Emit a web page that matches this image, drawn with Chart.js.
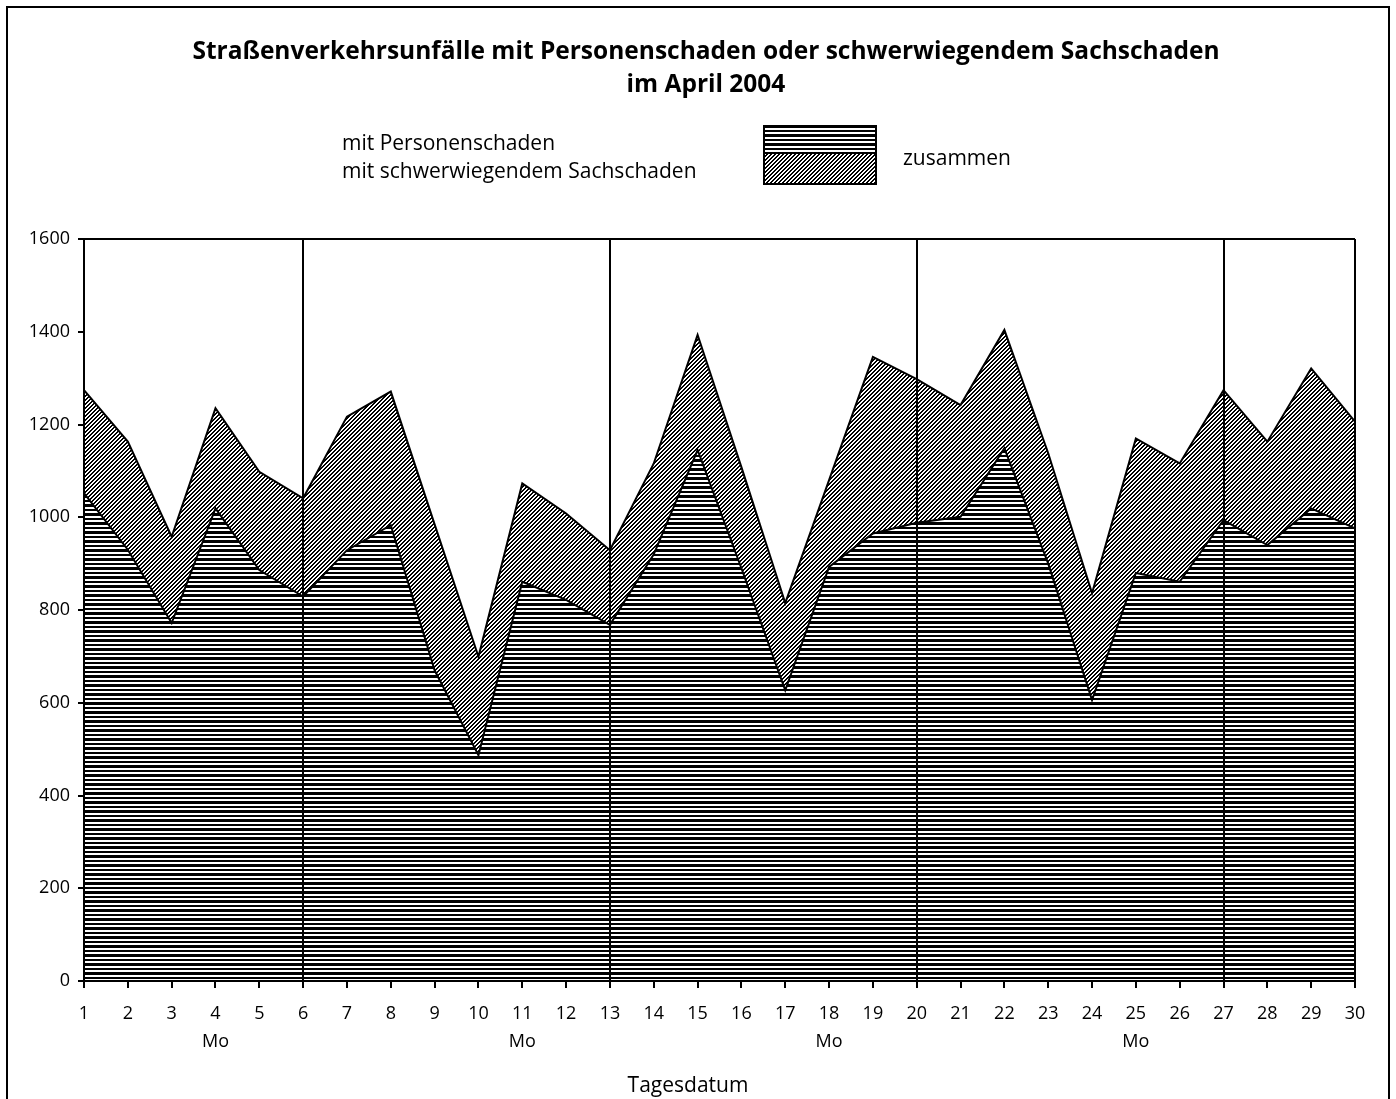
<!DOCTYPE html>
<html lang="de">
<head>
<meta charset="UTF-8">
<title>Straßenverkehrsunfälle April 2004</title>
<script src="https://cdn.jsdelivr.net/npm/chart.js@4.4.0/dist/chart.umd.min.js"></script>
<style>
body{margin:0;background:#fff;color:#000;font-family:"Open Sans",Arial,sans-serif}
#wrap{position:relative;width:1396px;height:1099px;overflow:hidden}
#frame{position:absolute;left:6px;top:6px;width:1380px;height:1200px;border:2px solid #000}
#chart{position:absolute;left:0;top:0}
.title{position:absolute;left:0;top:33px;width:1412px;text-align:center;font-weight:bold;font-size:24.5px;line-height:33px}
.legtxt{position:absolute;left:342px;top:128px;font-size:21px;line-height:28px;white-space:nowrap}
#swatch{position:absolute;left:763px;top:125px}
.zus{position:absolute;left:903px;top:143px;font-size:21px;line-height:28px}
.xtitle{position:absolute;left:588px;width:200px;top:1070px;text-align:center;font-size:21px;line-height:28px}
</style>
</head>
<body>
<div id="wrap">
  <canvas id="chart" width="1396" height="1099"></canvas>
  <div id="frame"></div>
  <div class="title">Straßenverkehrsunfälle mit Personenschaden oder schwerwiegendem Sachschaden<br>im April 2004</div>
  <div class="legtxt">mit Personenschaden<br>mit schwerwiegendem Sachschaden</div>
  <canvas id="swatch" width="114" height="60"></canvas>
  <div class="zus">zusammen</div>
  <div class="xtitle">Tagesdatum</div>
</div>

<script>
// Tage im April 2004
const days = [1,2,3,4,5,6,7,8,9,10,11,12,13,14,15,16,17,18,19,20,21,22,23,24,25,26,27,28,29,30];
const mondays = [4,11,18,25];
const weekLines = [1,6,13,20,27,30];

// Unfälle
const personen = [1052,930,772,1019,886,829,929,983,670,487,861,822,768,920,1145,890,627,893,965,988,1001,1149,900,606,880,861,994,940,1019,976];
const sachschaden = [222,233,186,216,212,212,288,288,315,212,212,186,161,196,248,218,188,187,381,310,241,255,238,230,290,255,280,223,302,230];

const yTicks = [0,200,400,600,800,1000,1200,1400,1600];

const labels = days.map(d => mondays.includes(d) ? [String(d),'Mo'] : String(d));

/* Schraffuren */
function makeTile(kind){
  const c = document.createElement('canvas');
  let w, h, on;
  if(kind==='h'){
    w=8; h=9;
    on = (x,y) => [0,1,2,5,6].includes(y);
  } else {
    w=4; h=4;
    on = (x,y) => ((x+y)%4===0 || (x+y)%4===1);
  }
  c.width=w; c.height=h;
  const g = c.getContext('2d');
  const img = g.createImageData(w,h);
  for(let y=0;y<h;y++) for(let x=0;x<w;x++){
    const i=(y*w+x)*4;
    img.data[i]=0; img.data[i+1]=0; img.data[i+2]=0;
    img.data[i+3]= on(x,y) ? 255 : 0;
  }
  g.putImageData(img,0,0);
  return c;
}
const tileH = makeTile('h'), tileD = makeTile('d');
const ctx = document.getElementById('chart').getContext('2d');
const patH = ctx.createPattern(tileH,'repeat');
const patD = ctx.createPattern(tileD,'repeat');

/* Legendenfeld */
(function(){
  const s = document.getElementById('swatch').getContext('2d');
  s.fillStyle = s.createPattern(tileH,'repeat');
  s.fillRect(0,0,114,29);
  s.fillStyle = s.createPattern(tileD,'repeat');
  s.fillRect(0,29,114,31);
  s.lineWidth=2; s.strokeStyle='#000';
  s.strokeRect(1,1,112,58);
})();

const tickFont = {family:'"Open Sans", Arial, sans-serif', size:18};

new Chart(ctx,{
  type:'line',
  data:{
    labels: labels,
    datasets:[
      {label:'mit Personenschaden', data:personen, fill:'origin',
       backgroundColor:patH, borderColor:'#000', borderWidth:2, pointRadius:0, tension:0},
      {label:'mit schwerwiegendem Sachschaden', data:sachschaden, fill:'-1',
       backgroundColor:patD, borderColor:'#000', borderWidth:2, pointRadius:0, tension:0}
    ]
  },
  options:{
    responsive:false,
    animation:false,
    layout:{padding:{left:0,right:41,top:239,bottom:0}},
    plugins:{legend:{display:false}, tooltip:{enabled:false}},
    scales:{
      x:{
        offset:false,
        afterFit(scale){ scale.height = 118; },
        grid:{
          offset:false,
          color: c => weekLines.includes(days[c.index]) ? '#000' : 'rgba(0,0,0,0)',
          lineWidth:2, tickColor:'#000', tickWidth:2, tickLength:7
        },
        border:{display:true, color:'#000', width:2},
        ticks:{autoSkip:false, maxRotation:0, color:'#000', padding:11,
               font:{...tickFont, lineHeight:1.6}}
      },
      y:{
        stacked:true,
        min:0, max:1600,
        afterFit(scale){ scale.width = 84; },
        afterBuildTicks(scale){ scale.ticks = yTicks.map(v => ({value:v})); },
        grid:{
          color: c => c.tick && c.tick.value===1600 ? '#000' : 'rgba(0,0,0,0)',
          lineWidth:2, tickColor:'#000', tickWidth:2, tickLength:6
        },
        border:{display:true, color:'#000', width:2},
        ticks:{color:'#000', padding:8, font:tickFont, callback: v => String(v)}
      }
    }
  }
});
</script>
</body>
</html>
